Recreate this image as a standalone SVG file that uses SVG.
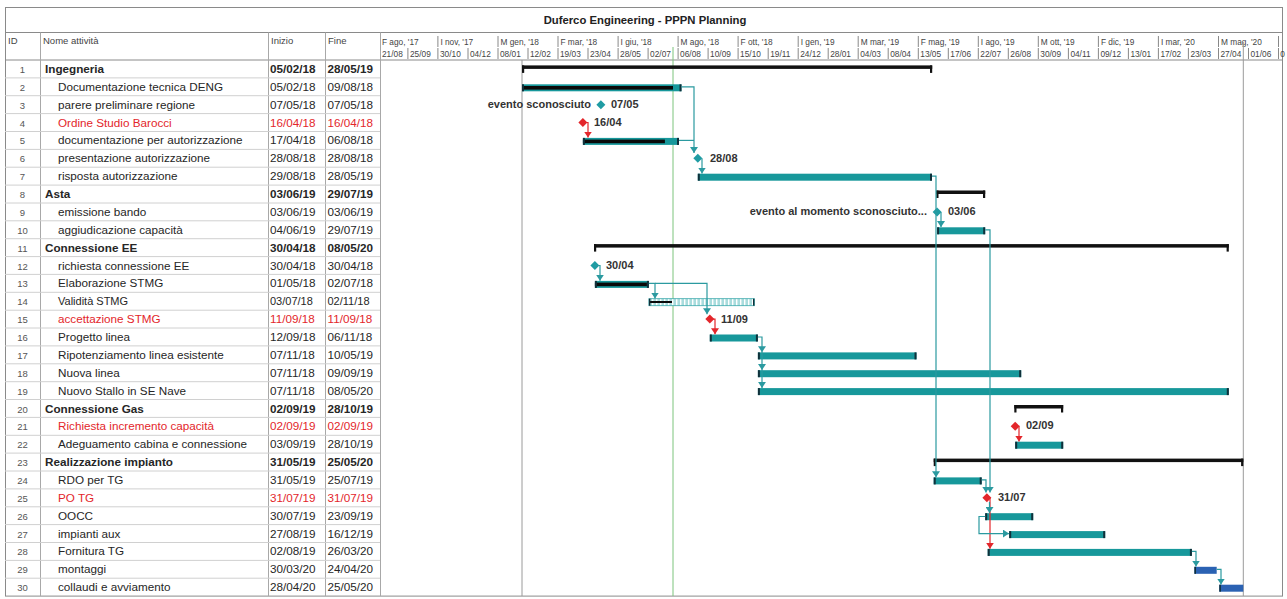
<svg xmlns="http://www.w3.org/2000/svg" width="1287" height="599" viewBox="0 0 1287 599">
<style>
text{font-family:"Liberation Sans",Arial,sans-serif}
.t{font-size:11.7px;fill:#262626}
.b{font-weight:bold}
.r{fill:#e3262b}
.id{font-size:9.5px;fill:#555;text-anchor:middle}
.h{font-size:9.5px;fill:#444}
.ts{font-size:8.3px;fill:#444}
.ttl{font-size:11.3px;font-weight:bold;fill:#222;text-anchor:middle}
.ml{font-size:11px;font-weight:bold;fill:#333}
.end{text-anchor:end}
.grid{stroke:#d0d0d0;stroke-width:1}
.col{stroke:#a8a8a8;stroke-width:1}
.tick{stroke:#888;stroke-width:1}
.bar{fill:#17989b}
.cap{fill:#10303a}
.prog{fill:#0a0a0a}
.sum{fill:#111}
.blue{fill:#2b62b3}
.mt{fill:#1f9ca3}
.mr{fill:#e3262b}
.lk{fill:none;stroke:#2b9aa0;stroke-width:1.2}
.lr{fill:none;stroke:#e3262b;stroke-width:1.2}
</style>
<defs>
<marker id="at" viewBox="0 0 6 8" refX="6" refY="4" markerWidth="6" markerHeight="8" markerUnits="userSpaceOnUse" orient="auto"><path d="M0,0 L6,4 L0,8 z" fill="#2b9aa0"/></marker>
<marker id="ar" viewBox="0 0 6 8" refX="6" refY="4" markerWidth="6" markerHeight="8" markerUnits="userSpaceOnUse" orient="auto"><path d="M0,0 L6,4 L0,8 z" fill="#e3262b"/></marker>
<pattern id="hatch" width="4" height="8" patternUnits="userSpaceOnUse"><rect width="4" height="8" fill="#a9dcdd"/><rect width="1.4" height="8" fill="#ffffff"/></pattern>
</defs>
<rect width="1287" height="599" fill="#fff"/>
<g id="frame">
<rect x="5.5" y="7.5" width="1277" height="588.6" fill="none" stroke="#8a8a8a"/>
<line x1="5" y1="32.5" x2="1283" y2="32.5" stroke="#8a8a8a"/>
<line x1="5" y1="60" x2="1283" y2="60" stroke="#8a8a8a"/>
<line class="col" x1="40.5" y1="32.5" x2="40.5" y2="596"/>
<line class="col" x1="268.5" y1="32.5" x2="268.5" y2="596"/>
<line class="col" x1="325.5" y1="32.5" x2="325.5" y2="596"/>
<line class="col" x1="380.5" y1="32.5" x2="380.5" y2="596"/>
<text class="ttl" x="645" y="24">Duferco Engineering - PPPN Planning</text>
<text class="h" x="8" y="44">ID</text>
<text class="h" x="43" y="44">Nome attività</text>
<text class="h" x="271" y="44">Inizio</text>
<text class="h" x="328" y="44">Fine</text>
</g>
<g id="rowlines">
<line class="grid" x1="5" y1="77.9" x2="380" y2="77.9"/><line class="grid" x1="5" y1="95.7" x2="380" y2="95.7"/><line class="grid" x1="5" y1="113.6" x2="380" y2="113.6"/><line class="grid" x1="5" y1="131.5" x2="380" y2="131.5"/><line class="grid" x1="5" y1="149.4" x2="380" y2="149.4"/><line class="grid" x1="5" y1="167.2" x2="380" y2="167.2"/><line class="grid" x1="5" y1="185.1" x2="380" y2="185.1"/><line class="grid" x1="5" y1="203" x2="380" y2="203"/><line class="grid" x1="5" y1="220.8" x2="380" y2="220.8"/><line class="grid" x1="5" y1="238.7" x2="380" y2="238.7"/><line class="grid" x1="5" y1="256.6" x2="380" y2="256.6"/><line class="grid" x1="5" y1="274.4" x2="380" y2="274.4"/><line class="grid" x1="5" y1="292.3" x2="380" y2="292.3"/><line class="grid" x1="5" y1="310.2" x2="380" y2="310.2"/><line class="grid" x1="5" y1="328" x2="380" y2="328"/><line class="grid" x1="5" y1="345.9" x2="380" y2="345.9"/><line class="grid" x1="5" y1="363.8" x2="380" y2="363.8"/><line class="grid" x1="5" y1="381.7" x2="380" y2="381.7"/><line class="grid" x1="5" y1="399.5" x2="380" y2="399.5"/><line class="grid" x1="5" y1="417.4" x2="380" y2="417.4"/><line class="grid" x1="5" y1="435.3" x2="380" y2="435.3"/><line class="grid" x1="5" y1="453.1" x2="380" y2="453.1"/><line class="grid" x1="5" y1="471" x2="380" y2="471"/><line class="grid" x1="5" y1="488.9" x2="380" y2="488.9"/><line class="grid" x1="5" y1="506.8" x2="380" y2="506.8"/><line class="grid" x1="5" y1="524.6" x2="380" y2="524.6"/><line class="grid" x1="5" y1="542.5" x2="380" y2="542.5"/><line class="grid" x1="5" y1="560.4" x2="380" y2="560.4"/><line class="grid" x1="5" y1="578.2" x2="380" y2="578.2"/>
</g>
<g id="timescale">
<line class="tick" x1="437.9" y1="36" x2="437.9" y2="47"/><line class="tick" x1="498" y1="36" x2="498" y2="47"/><line class="tick" x1="558" y1="36" x2="558" y2="47"/><line class="tick" x1="618.1" y1="36" x2="618.1" y2="47"/><line class="tick" x1="678.1" y1="36" x2="678.1" y2="47"/><line class="tick" x1="738.1" y1="36" x2="738.1" y2="47"/><line class="tick" x1="798.2" y1="36" x2="798.2" y2="47"/><line class="tick" x1="858.2" y1="36" x2="858.2" y2="47"/><line class="tick" x1="918.3" y1="36" x2="918.3" y2="47"/><line class="tick" x1="978.3" y1="36" x2="978.3" y2="47"/><line class="tick" x1="1038.3" y1="36" x2="1038.3" y2="47"/><line class="tick" x1="1098.4" y1="36" x2="1098.4" y2="47"/><line class="tick" x1="1158.4" y1="36" x2="1158.4" y2="47"/><line class="tick" x1="1218.5" y1="36" x2="1218.5" y2="47"/><line class="tick" x1="1278.5" y1="36" x2="1278.5" y2="47"/>
<text class="ts" x="382" y="44.5">F ago, '17</text><text class="ts" x="440.4" y="44.5">I nov, '17</text><text class="ts" x="500.5" y="44.5">M gen, '18</text><text class="ts" x="560.5" y="44.5">F mar, '18</text><text class="ts" x="620.6" y="44.5">I giu, '18</text><text class="ts" x="680.6" y="44.5">M ago, '18</text><text class="ts" x="740.6" y="44.5">F ott, '18</text><text class="ts" x="800.7" y="44.5">I gen, '19</text><text class="ts" x="860.7" y="44.5">M mar, '19</text><text class="ts" x="920.8" y="44.5">F mag, '19</text><text class="ts" x="980.8" y="44.5">I ago, '19</text><text class="ts" x="1040.8" y="44.5">M ott, '19</text><text class="ts" x="1100.9" y="44.5">F dic, '19</text><text class="ts" x="1160.9" y="44.5">I mar, '20</text><text class="ts" x="1221" y="44.5">M mag, '20</text>
<line class="tick" x1="407.9" y1="48" x2="407.9" y2="59"/><line class="tick" x1="437.9" y1="48" x2="437.9" y2="59"/><line class="tick" x1="468" y1="48" x2="468" y2="59"/><line class="tick" x1="498" y1="48" x2="498" y2="59"/><line class="tick" x1="528" y1="48" x2="528" y2="59"/><line class="tick" x1="558" y1="48" x2="558" y2="59"/><line class="tick" x1="588" y1="48" x2="588" y2="59"/><line class="tick" x1="618.1" y1="48" x2="618.1" y2="59"/><line class="tick" x1="648.1" y1="48" x2="648.1" y2="59"/><line class="tick" x1="678.1" y1="48" x2="678.1" y2="59"/><line class="tick" x1="708.1" y1="48" x2="708.1" y2="59"/><line class="tick" x1="738.1" y1="48" x2="738.1" y2="59"/><line class="tick" x1="768.2" y1="48" x2="768.2" y2="59"/><line class="tick" x1="798.2" y1="48" x2="798.2" y2="59"/><line class="tick" x1="828.2" y1="48" x2="828.2" y2="59"/><line class="tick" x1="858.2" y1="48" x2="858.2" y2="59"/><line class="tick" x1="888.2" y1="48" x2="888.2" y2="59"/><line class="tick" x1="918.3" y1="48" x2="918.3" y2="59"/><line class="tick" x1="948.3" y1="48" x2="948.3" y2="59"/><line class="tick" x1="978.3" y1="48" x2="978.3" y2="59"/><line class="tick" x1="1008.3" y1="48" x2="1008.3" y2="59"/><line class="tick" x1="1038.3" y1="48" x2="1038.3" y2="59"/><line class="tick" x1="1068.4" y1="48" x2="1068.4" y2="59"/><line class="tick" x1="1098.4" y1="48" x2="1098.4" y2="59"/><line class="tick" x1="1128.4" y1="48" x2="1128.4" y2="59"/><line class="tick" x1="1158.4" y1="48" x2="1158.4" y2="59"/><line class="tick" x1="1188.4" y1="48" x2="1188.4" y2="59"/><line class="tick" x1="1218.5" y1="48" x2="1218.5" y2="59"/><line class="tick" x1="1248.5" y1="48" x2="1248.5" y2="59"/><line class="tick" x1="1278.5" y1="48" x2="1278.5" y2="59"/>
<text class="ts" x="382" y="56.5">21/08</text><text class="ts" x="410" y="56.5">25/09</text><text class="ts" x="440" y="56.5">30/10</text><text class="ts" x="470" y="56.5">04/12</text><text class="ts" x="500" y="56.5">08/01</text><text class="ts" x="530" y="56.5">12/02</text><text class="ts" x="560" y="56.5">19/03</text><text class="ts" x="590" y="56.5">23/04</text><text class="ts" x="620.1" y="56.5">28/05</text><text class="ts" x="650.1" y="56.5">02/07</text><text class="ts" x="680.1" y="56.5">06/08</text><text class="ts" x="710.1" y="56.5">10/09</text><text class="ts" x="740.1" y="56.5">15/10</text><text class="ts" x="770.2" y="56.5">19/11</text><text class="ts" x="800.2" y="56.5">24/12</text><text class="ts" x="830.2" y="56.5">28/01</text><text class="ts" x="860.2" y="56.5">04/03</text><text class="ts" x="890.2" y="56.5">08/04</text><text class="ts" x="920.3" y="56.5">13/05</text><text class="ts" x="950.3" y="56.5">17/06</text><text class="ts" x="980.3" y="56.5">22/07</text><text class="ts" x="1010.3" y="56.5">26/08</text><text class="ts" x="1040.3" y="56.5">30/09</text><text class="ts" x="1070.4" y="56.5">04/11</text><text class="ts" x="1100.4" y="56.5">09/12</text><text class="ts" x="1130.4" y="56.5">13/01</text><text class="ts" x="1160.4" y="56.5">17/02</text><text class="ts" x="1190.4" y="56.5">23/03</text><text class="ts" x="1220.5" y="56.5">27/04</text><text class="ts" x="1250.5" y="56.5">01/06</text><text class="ts" x="1280.3" y="56.5">0</text>
</g>
<g id="datelines">
<line x1="522" y1="60" x2="522" y2="596" stroke="#9a9a9a" stroke-width="1"/>
<line x1="673" y1="47" x2="673" y2="596" stroke="#7cc47c" stroke-width="1"/>
<line x1="1243.3" y1="42" x2="1243.3" y2="596" stroke="#9a9a9a" stroke-width="1"/>
</g>
<g id="task-1"><text class="id" x="22.5" y="72.9">1</text><text class="t b" x="45" y="72.9">Ingegneria</text><text class="t b" x="270" y="72.9">05/02/18</text><text class="t b" x="327.5" y="72.9">28/05/19</text>
<rect class="sum" x="522" y="65.4" width="410.2" height="3.5"/><rect class="sum" x="522" y="65.4" width="2.2" height="7.5"/><rect class="sum" x="930" y="65.4" width="2.2" height="7.5"/></g>
<g id="task-2"><text class="id" x="22.5" y="90.8">2</text><text class="t" x="58" y="90.8">Documentazione tecnica DENG</text><text class="t" x="270" y="90.8">05/02/18</text><text class="t" x="327.5" y="90.8">09/08/18</text>
<rect class="bar" x="522" y="84.3" width="159.5" height="7"/><rect class="prog" x="522" y="86" width="151" height="3.6"/><rect class="cap" x="522" y="84.3" width="2" height="7"/><rect class="cap" x="679.5" y="84.3" width="2" height="7"/></g>
<g id="task-3"><text class="id" x="22.5" y="108.7">3</text><text class="t" x="58" y="108.7">parere preliminare regione</text><text class="t" x="270" y="108.7">07/05/18</text><text class="t" x="327.5" y="108.7">07/05/18</text>
<path class="mt" d="M600.9,100.2 L605.4,104.7 L600.9,109.2 L596.4,104.7 z"/><text class="ml end" x="591" y="108.2">evento sconosciuto</text><text class="ml" x="611" y="108.2">07/05</text></g>
<g id="task-4"><text class="id" x="22.5" y="126.5">4</text><text class="t r" x="58" y="126.5">Ordine Studio Barocci</text><text class="t r" x="270" y="126.5">16/04/18</text><text class="t r" x="327.5" y="126.5">16/04/18</text>
<path class="mr" d="M582.9,118 L587.4,122.5 L582.9,127 L578.4,122.5 z"/><text class="ml" x="594" y="126">16/04</text></g>
<g id="task-5"><text class="id" x="22.5" y="144.4">5</text><text class="t" x="58" y="144.4">documentazione per autorizzazione</text><text class="t" x="270" y="144.4">17/04/18</text><text class="t" x="327.5" y="144.4">06/08/18</text>
<rect class="bar" x="582.9" y="137.9" width="96.1" height="7"/><rect class="prog" x="582.9" y="139.6" width="82" height="3.6"/><rect class="cap" x="582.9" y="137.9" width="2" height="7"/><rect class="cap" x="677" y="137.9" width="2" height="7"/></g>
<g id="task-6"><text class="id" x="22.5" y="162.3">6</text><text class="t" x="58" y="162.3">presentazione autorizzazione</text><text class="t" x="270" y="162.3">28/08/18</text><text class="t" x="327.5" y="162.3">28/08/18</text>
<path class="mt" d="M697.8,153.8 L702.3,158.3 L697.8,162.8 L693.3,158.3 z"/><text class="ml" x="710" y="161.8">28/08</text></g>
<g id="task-7"><text class="id" x="22.5" y="180.2">7</text><text class="t" x="58" y="180.2">risposta autorizzazione</text><text class="t" x="270" y="180.2">29/08/18</text><text class="t" x="327.5" y="180.2">28/05/19</text>
<rect class="bar" x="697.8" y="173.7" width="234.2" height="7"/><rect class="cap" x="697.8" y="173.7" width="2" height="7"/><rect class="cap" x="930" y="173.7" width="2" height="7"/></g>
<g id="task-8"><text class="id" x="22.5" y="198">8</text><text class="t b" x="45" y="198">Asta</text><text class="t b" x="270" y="198">03/06/19</text><text class="t b" x="327.5" y="198">29/07/19</text>
<rect class="sum" x="936.3" y="190.5" width="48.9" height="3.5"/><rect class="sum" x="936.3" y="190.5" width="2.2" height="7.5"/><rect class="sum" x="983" y="190.5" width="2.2" height="7.5"/></g>
<g id="task-9"><text class="id" x="22.5" y="215.9">9</text><text class="t" x="58" y="215.9">emissione bando</text><text class="t" x="270" y="215.9">03/06/19</text><text class="t" x="327.5" y="215.9">03/06/19</text>
<path class="mt" d="M937.1,207.4 L941.6,211.9 L937.1,216.4 L932.6,211.9 z"/><text class="ml end" x="927" y="215.4">evento al momento sconosciuto...</text><text class="ml" x="948" y="215.4">03/06</text></g>
<g id="task-10"><text class="id" x="22.5" y="233.8">10</text><text class="t" x="58" y="233.8">aggiudicazione capacità</text><text class="t" x="270" y="233.8">04/06/19</text><text class="t" x="327.5" y="233.8">29/07/19</text>
<rect class="bar" x="937.1" y="227.3" width="48.1" height="7"/><rect class="cap" x="937.1" y="227.3" width="2" height="7"/><rect class="cap" x="983.2" y="227.3" width="2" height="7"/></g>
<g id="task-11"><text class="id" x="22.5" y="251.6">11</text><text class="t b" x="45" y="251.6">Connessione EE</text><text class="t b" x="270" y="251.6">30/04/18</text><text class="t b" x="327.5" y="251.6">08/05/20</text>
<rect class="sum" x="594" y="244.1" width="634.8" height="3.5"/><rect class="sum" x="594" y="244.1" width="2.2" height="7.5"/><rect class="sum" x="1226.6" y="244.1" width="2.2" height="7.5"/></g>
<g id="task-12"><text class="id" x="22.5" y="269.5">12</text><text class="t" x="58" y="269.5">richiesta connessione EE</text><text class="t" x="270" y="269.5">30/04/18</text><text class="t" x="327.5" y="269.5">30/04/18</text>
<path class="mt" d="M594.9,261 L599.4,265.5 L594.9,270 L590.4,265.5 z"/><text class="ml" x="606" y="269">30/04</text></g>
<g id="task-13"><text class="id" x="22.5" y="287.4">13</text><text class="t" x="58" y="287.4">Elaborazione STMG</text><text class="t" x="270" y="287.4">01/05/18</text><text class="t" x="327.5" y="287.4">02/07/18</text>
<rect class="bar" x="594.9" y="280.9" width="54" height="7"/><rect class="prog" x="594.9" y="282.6" width="52" height="3.6"/><rect class="cap" x="594.9" y="280.9" width="2" height="7"/><rect class="cap" x="646.9" y="280.9" width="2" height="7"/></g>
<g id="task-14"><text class="id" x="22.5" y="305.2">14</text><text class="t" x="58" y="305.2" style="font-size:11px">Validità STMG</text><text class="t" x="270" y="305.2" style="font-size:11px">03/07/18</text><text class="t" x="327.5" y="305.2" style="font-size:11px">02/11/18</text>
<rect x="648.9" y="298.7" width="105.5" height="7" fill="url(#hatch)" stroke="#3aa8ab" stroke-width="0.8"/><rect class="prog" x="650" y="301" width="22" height="2"/><rect class="cap" x="648.9" y="298.7" width="1.5" height="7"/><rect class="cap" x="753" y="298.7" width="1.4" height="7"/></g>
<g id="task-15"><text class="id" x="22.5" y="323.1">15</text><text class="t r" x="58" y="323.1">accettazione STMG</text><text class="t r" x="270" y="323.1">11/09/18</text><text class="t r" x="327.5" y="323.1">11/09/18</text>
<path class="mr" d="M709.8,314.6 L714.3,319.1 L709.8,323.6 L705.3,319.1 z"/><text class="ml" x="721" y="322.6">11/09</text></g>
<g id="task-16"><text class="id" x="22.5" y="341">16</text><text class="t" x="58" y="341">Progetto linea</text><text class="t" x="270" y="341">12/09/18</text><text class="t" x="327.5" y="341">06/11/18</text>
<rect class="bar" x="709.8" y="334.5" width="48.1" height="7"/><rect class="cap" x="709.8" y="334.5" width="2" height="7"/><rect class="cap" x="755.9" y="334.5" width="2" height="7"/></g>
<g id="task-17"><text class="id" x="22.5" y="358.9">17</text><text class="t" x="58" y="358.9">Ripotenziamento linea esistente</text><text class="t" x="270" y="358.9">07/11/18</text><text class="t" x="327.5" y="358.9">10/05/19</text>
<rect class="bar" x="757.9" y="352.4" width="158.6" height="7"/><rect class="cap" x="757.9" y="352.4" width="2" height="7"/><rect class="cap" x="914.5" y="352.4" width="2" height="7"/></g>
<g id="task-18"><text class="id" x="22.5" y="376.7">18</text><text class="t" x="58" y="376.7">Nuova linea</text><text class="t" x="270" y="376.7">07/11/18</text><text class="t" x="327.5" y="376.7">09/09/19</text>
<rect class="bar" x="757.9" y="370.2" width="263.3" height="7"/><rect class="cap" x="757.9" y="370.2" width="2" height="7"/><rect class="cap" x="1019.2" y="370.2" width="2" height="7"/></g>
<g id="task-19"><text class="id" x="22.5" y="394.6">19</text><text class="t" x="58" y="394.6">Nuovo Stallo in SE Nave</text><text class="t" x="270" y="394.6">07/11/18</text><text class="t" x="327.5" y="394.6">08/05/20</text>
<rect class="bar" x="757.9" y="388.1" width="470.9" height="7"/><rect class="cap" x="757.9" y="388.1" width="2" height="7"/><rect class="cap" x="1226.8" y="388.1" width="2" height="7"/></g>
<g id="task-20"><text class="id" x="22.5" y="412.5">20</text><text class="t b" x="45" y="412.5">Connessione Gas</text><text class="t b" x="270" y="412.5">02/09/19</text><text class="t b" x="327.5" y="412.5">28/10/19</text>
<rect class="sum" x="1014.3" y="405" width="48.9" height="3.5"/><rect class="sum" x="1014.3" y="405" width="2.2" height="7.5"/><rect class="sum" x="1061" y="405" width="2.2" height="7.5"/></g>
<g id="task-21"><text class="id" x="22.5" y="430.3">21</text><text class="t r" x="58" y="430.3">Richiesta incremento capacità</text><text class="t r" x="270" y="430.3">02/09/19</text><text class="t r" x="327.5" y="430.3">02/09/19</text>
<path class="mr" d="M1015.2,421.8 L1019.7,426.3 L1015.2,430.8 L1010.7,426.3 z"/><text class="ml" x="1026" y="429.3">02/09</text></g>
<g id="task-22"><text class="id" x="22.5" y="448.2">22</text><text class="t" x="58" y="448.2">Adeguamento cabina e connessione</text><text class="t" x="270" y="448.2">03/09/19</text><text class="t" x="327.5" y="448.2">28/10/19</text>
<rect class="bar" x="1015.2" y="441.7" width="48" height="7"/><rect class="cap" x="1015.2" y="441.7" width="2" height="7"/><rect class="cap" x="1061.2" y="441.7" width="2" height="7"/></g>
<g id="task-23"><text class="id" x="22.5" y="466.1">23</text><text class="t b" x="45" y="466.1">Realizzazione impianto</text><text class="t b" x="270" y="466.1">31/05/19</text><text class="t b" x="327.5" y="466.1">25/05/20</text>
<rect class="sum" x="933.7" y="458.6" width="309.6" height="3.5"/><rect class="sum" x="933.7" y="458.6" width="2.2" height="7.5"/><rect class="sum" x="1241.1" y="458.6" width="2.2" height="7.5"/></g>
<g id="task-24"><text class="id" x="22.5" y="483.9">24</text><text class="t" x="58" y="483.9">RDO per TG</text><text class="t" x="270" y="483.9">31/05/19</text><text class="t" x="327.5" y="483.9">25/07/19</text>
<rect class="bar" x="933.7" y="477.4" width="48" height="7"/><rect class="cap" x="933.7" y="477.4" width="2" height="7"/><rect class="cap" x="979.7" y="477.4" width="2" height="7"/></g>
<g id="task-25"><text class="id" x="22.5" y="501.8">25</text><text class="t r" x="58" y="501.8">PO TG</text><text class="t r" x="270" y="501.8">31/07/19</text><text class="t r" x="327.5" y="501.8">31/07/19</text>
<path class="mr" d="M986.9,493.3 L991.4,497.8 L986.9,502.3 L982.4,497.8 z"/><text class="ml" x="998" y="501">31/07</text></g>
<g id="task-26"><text class="id" x="22.5" y="519.7">26</text><text class="t" x="58" y="519.7">OOCC</text><text class="t" x="270" y="519.7">30/07/19</text><text class="t" x="327.5" y="519.7">23/09/19</text>
<rect class="bar" x="985.2" y="513.2" width="48" height="7"/><rect class="cap" x="985.2" y="513.2" width="2" height="7"/><rect class="cap" x="1031.2" y="513.2" width="2" height="7"/></g>
<g id="task-27"><text class="id" x="22.5" y="537.6">27</text><text class="t" x="58" y="537.6">impianti aux</text><text class="t" x="270" y="537.6">27/08/19</text><text class="t" x="327.5" y="537.6">16/12/19</text>
<rect class="bar" x="1009.2" y="531.1" width="96" height="7"/><rect class="cap" x="1009.2" y="531.1" width="2" height="7"/><rect class="cap" x="1103.2" y="531.1" width="2" height="7"/></g>
<g id="task-28"><text class="id" x="22.5" y="555.4">28</text><text class="t" x="58" y="555.4">Fornitura TG</text><text class="t" x="270" y="555.4">02/08/19</text><text class="t" x="327.5" y="555.4">26/03/20</text>
<rect class="bar" x="987.7" y="548.9" width="204.2" height="7"/><rect class="cap" x="987.7" y="548.9" width="2" height="7"/><rect class="cap" x="1189.9" y="548.9" width="2" height="7"/></g>
<g id="task-29"><text class="id" x="22.5" y="573.3">29</text><text class="t" x="58" y="573.3">montaggi</text><text class="t" x="270" y="573.3">30/03/20</text><text class="t" x="327.5" y="573.3">24/04/20</text>
<rect class="blue" x="1194.4" y="566.8" width="22.3" height="7"/><rect class="cap" x="1194.4" y="566.8" width="1.6" height="7"/></g>
<g id="task-30"><text class="id" x="22.5" y="591.2">30</text><text class="t" x="58" y="591.2">collaudi e avviamento</text><text class="t" x="270" y="591.2">28/04/20</text><text class="t" x="327.5" y="591.2">25/05/20</text>
<rect class="blue" x="1219.3" y="584.7" width="24" height="7"/><rect class="cap" x="1219.3" y="584.7" width="1.6" height="7"/></g>
<g id="connectors">
<path class="lk" d="M681.5,86.8 H694 V153" marker-end="url(#at)"/>
<path class="lk" d="M679,140.4 H694"/>
<path class="lk" d="M702,158.3 V173.5" marker-end="url(#at)"/>
<path class="lr" d="M583,122.5 H588 V137.6" marker-end="url(#ar)"/>
<path class="lk" d="M932,176.2 H936 V477.2" marker-end="url(#at)"/>
<path class="lk" d="M941,211.9 V227.1" marker-end="url(#at)"/>
<path class="lk" d="M985.2,229.8 H990 V492.5" marker-end="url(#at)"/>
<path class="lk" d="M981.7,479.9 H986 V492.5" marker-end="url(#at)"/>
<path class="lr" d="M990,497.8 V548.7" marker-end="url(#ar)"/>
<path class="lk" d="M989.5,502 V513" marker-end="url(#at)"/>
<path class="lk" d="M985.2,516.5 H979 V533.6 H1009" marker-end="url(#at)"/>
<path class="lk" d="M1191.9,551.4 H1196 V566.6" marker-end="url(#at)"/>
<path class="lk" d="M1216.7,569.3 H1221 V584.5" marker-end="url(#at)"/>
<path class="lr" d="M1015.2,426.3 H1019 V441.5" marker-end="url(#ar)"/>
<path class="lk" d="M595,265.5 H600 V280.7" marker-end="url(#at)"/>
<path class="lk" d="M648.9,283.4 H655 V298.5" marker-end="url(#at)"/>
<path class="lk" d="M655,283.4 H707 V314.2" marker-end="url(#at)"/>
<path class="lr" d="M710,319.1 H715 V334.3" marker-end="url(#ar)"/>
<path class="lk" d="M757.9,337 H762 V352.2" marker-end="url(#at)"/>
<path class="lk" d="M762,352 V370" marker-end="url(#at)"/>
<path class="lk" d="M762,370 V387.9" marker-end="url(#at)"/>
</g>
</svg>
